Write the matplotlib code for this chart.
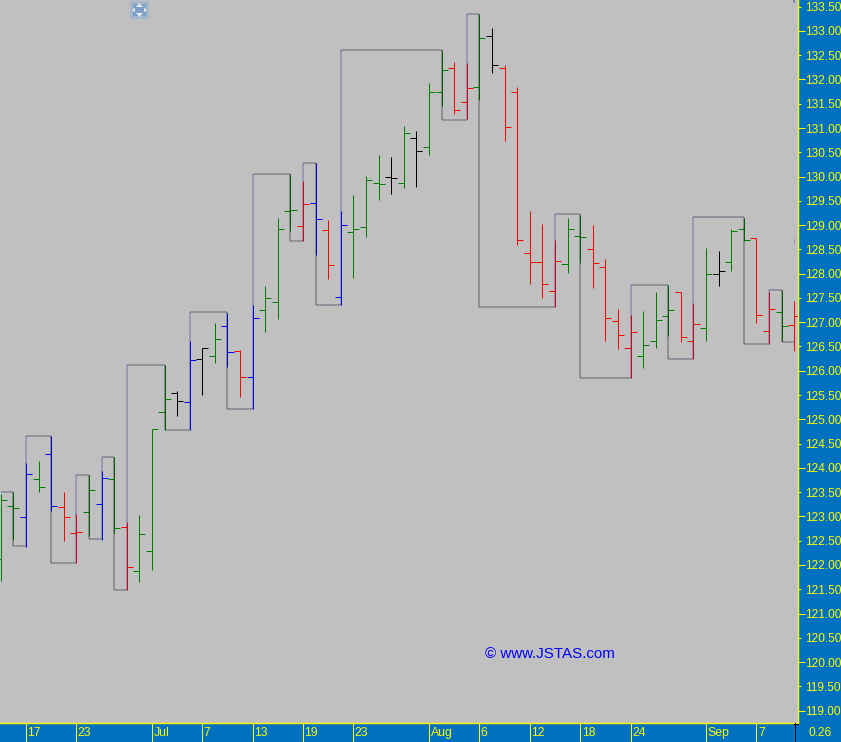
import numpy as np
import matplotlib
matplotlib.use('Agg')
import matplotlib.pyplot as plt
from matplotlib.lines import Line2D
from matplotlib.patches import Rectangle, Polygon
from matplotlib.transforms import ScaledTranslation

# daily bars
highs = [123.47,123.51,124.10,124.15,124.65,123.51,123.04,123.86,123.94,124.23,
         122.89,123.02,124.80,126.11,125.59,126.61,126.46,126.99,127.19,126.43,
         127.36,127.75,129.15,130.05,129.90,130.27,129.11,129.30,129.62,130.01,
         130.45,130.41,131.05,130.93,131.93,132.61,132.37,132.34,133.34,133.05,
         132.30,131.85,129.30,129.03,128.70,129.15,129.20,129.01,128.30,127.27,
         127.15,127.23,127.62,127.77,127.62,127.40,128.53,128.47,128.93,129.15,
         128.74,127.62,127.66,127.44]
lows = [121.66,122.52,122.38,123.51,123.12,122.49,122.05,122.59,122.52,122.65,
        121.48,121.64,121.90,124.79,125.06,124.77,125.51,126.17,126.07,125.47,
        125.21,126.79,127.06,128.87,128.67,128.38,127.90,127.35,127.92,128.75,
        129.51,129.65,129.76,129.78,130.44,131.45,131.28,131.19,131.57,132.13,
        130.73,128.60,127.78,127.49,127.31,128.01,128.21,127.70,126.61,126.44,
        125.85,126.05,126.46,126.72,126.59,126.24,126.61,127.74,128.05,128.68,
        126.98,126.55,126.61,126.40]
opens = [122.12,123.22,122.99,123.77,124.29,123.20,122.66,123.09,123.26,123.77,
         122.78,121.88,122.29,125.15,125.54,125.36,126.24,126.31,126.92,126.41,
         125.87,127.25,127.42,129.29,128.98,129.46,128.90,127.52,128.86,128.96,
         129.87,129.99,129.87,130.80,130.61,131.74,132.24,131.54,131.85,132.90,
         132.24,131.74,128.43,128.24,127.64,128.20,128.78,128.51,128.14,127.03,
         126.47,126.31,126.61,127.13,127.62,126.61,126.88,127.99,128.24,128.92,
         128.74,126.82,127.21,126.94]
closes = [123.34,123.17,123.87,123.61,123.22,122.99,122.68,123.55,123.79,122.76,
          121.96,122.64,124.80,125.42,125.38,126.22,126.47,126.66,126.39,125.87,
          127.09,127.50,128.92,129.31,129.44,129.13,128.18,129.00,128.92,129.93,
          129.85,129.97,130.90,130.53,131.74,132.20,131.37,131.83,132.86,132.30,
          131.02,128.70,128.24,127.79,128.26,128.92,128.76,128.22,127.09,126.74,
          126.80,126.53,127.05,127.25,126.70,126.96,127.99,128.06,128.88,128.70,
          127.15,127.27,126.92,127.13]
bar_colors = ['g','g','b','g','b','r','r','g','b','g',
              'r','g','g','g','k','b','k','g','b','r',
              'b','g','g','g','r','b','r','b','g','g',
              'g','k','g','k','g','g','r','r','g','k',
              'r','r','r','r','r','g','g','r','r','r',
              'r','g','g','g','r','r','g','k','g','g',
              'r','r','g','r']

# swing line: level starts at that bar and holds until the next one
swing_bars = [0,1,2,4,6,7,8,9,10,13,15,18,20,23,24,25,27,35,37,38,44,46,50,53,55,59,61,62,63]
swing_levels = [123.51,122.40,124.66,122.05,123.86,122.53,124.23,121.48,126.11,124.77,
                127.22,125.21,130.06,128.68,130.27,127.35,132.61,131.17,133.34,127.31,
                129.22,125.86,127.77,126.24,129.17,126.56,127.66,126.60,126.60]

date_bars = [2,6,12,16,20,24,28,34,38,42,46,50,56,60]
date_labels = ['17','23','Jul','7','13','19','23','Aug','6','12','18','24','Sep','7']

W, H = 841, 742
PANEL = '#0070C0'
GREY = '#C0C0C0'
YEL = '#FFFF00'
plt.rcParams['font.family'] = ['Liberation Sans', 'DejaVu Sans']

fig = plt.figure(figsize=(W/100, H/100), dpi=100, facecolor=PANEL)
ax = fig.add_axes([0, 1-723/H, 797.5/W, 723/H], facecolor=GREY)
ax.set_xlim(-0.0635, 63.26)
ax.set_ylim(118.745, 133.637)

cmap = {'g':'#008000', 'b':'#0000FF', 'r':'#FF0000', 'k':'#000000'}
px = 0.72  # one pixel in points
x = np.arange(len(highs))
cols = [cmap[c] for c in bar_colors]
ax.vlines(x, lows, highs, colors=cols, linewidth=px, snap=True, zorder=2)
ax.hlines(opens, x-0.48, x, colors=cols, linewidth=px, snap=True, zorder=2)
ax.hlines(closes, x, x+0.48, colors=cols, linewidth=px, snap=True, zorder=2)

# swing line goes on top, see through, so bars under it get darker
for k in range(len(swing_bars)-1):
    b0, b1 = swing_bars[k], swing_bars[k+1]
    lev = swing_levels[k]
    ax.plot([b0, b1], [lev, lev], color='#000030', alpha=0.23, lw=2*px,
            solid_capstyle='butt', snap=True, zorder=3)
    nxt = swing_levels[k+1]
    if nxt > lev:
        ax.plot([b1, b1], [lev, nxt], color='#000080', alpha=0.2, lw=2*px,
                solid_capstyle='butt', snap=True, zorder=3)
    elif nxt < lev:
        ax.plot([b1, b1], [lev, nxt], color='#000000', alpha=0.25, lw=2*px,
                solid_capstyle='butt', snap=True, zorder=3)

# little leftovers of the swing line at the right edge
ax.plot([63, 63], [128.65, 128.72], color='#000080', alpha=0.25, lw=px, snap=True)
ax.plot([63, 63], [133.60, 133.637], color='#000080', alpha=0.3, lw=2*px, snap=True)

for s in ['top', 'left']:
    ax.spines[s].set_visible(False)
for s in ['right', 'bottom']:
    ax.spines[s].set_color(YEL)
    ax.spines[s].set_linewidth(1.4*px)

# price axis
ax.yaxis.tick_right()
ints = np.arange(119, 134)
halves = np.arange(119.5, 134)
ax.set_yticks(ints, ['%.2f' % v for v in ints])
ax.set_yticks(halves, ['%.2f' % v for v in halves], minor=True)
ax.tick_params(axis='y', which='major', length=7*px, width=px, color=YEL, labelcolor=YEL,
               labelsize=8.6, pad=1*px)
ax.tick_params(axis='y', which='minor', length=3*px, width=px, color=YEL, labelcolor=YEL,
               labelsize=8.6, pad=5*px)

# date axis
ax.set_xticks(date_bars, date_labels)
ax.tick_params(axis='x', length=19*px, width=px, color=YEL, labelcolor=YEL, labelsize=8.8,
               pad=-15*px)
for lab in ax.get_xticklabels():
    lab.set_ha('left')
    lab.set_transform(lab.get_transform() + ScaledTranslation(1.5/100, 0, fig.dpi_scale_trans))

fig.text(820/W, 1-733/H, '0.26', color=YEL, fontsize=8.6, ha='center', va='center')
fig.text(485/W, 1-654/H, '\u00a9 www.JSTAS.com', color='#0000FF', fontsize=10.9, ha='left', va='center')

# black corner by the price label
fig.add_artist(Line2D([794.5/W, 794.5/W], [1-723/H, 0], color='k', lw=px))
fig.add_artist(Line2D([794/W, 798/W], [1-723.5/H, 1-723.5/H], color='k', lw=px))

# button at the top
btn = fig.add_axes([130/W, 1-19/H, 19/W, 18/H])
btn.set_xlim(0, 19)
btn.set_ylim(18, 0)
btn.axis('off')
btn.add_patch(Rectangle((0, 0), 19, 18, fc='#A2B6CC', ec='none'))
btn.add_patch(Rectangle((3, 3), 13, 12, fc='#7F9FC4', ec='none'))
arrow = '#E4E8EE'
btn.add_patch(Polygon([[9.5, 2], [6, 6], [13, 6]], fc=arrow, ec='none'))
btn.add_patch(Polygon([[9.5, 16], [6, 12], [13, 12]], fc=arrow, ec='none'))
btn.add_patch(Polygon([[2, 9], [5, 6.5], [5, 11.5]], fc=arrow, ec='none'))
btn.add_patch(Polygon([[17, 9], [14, 6.5], [14, 11.5]], fc=arrow, ec='none'))

fig.savefig('out.png', dpi=100, facecolor=fig.get_facecolor())
